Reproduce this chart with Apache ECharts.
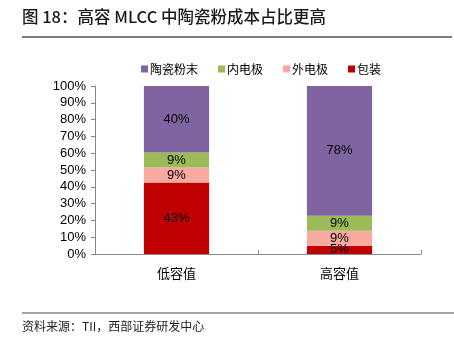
<!DOCTYPE html>
<html>
<head>
<meta charset="utf-8">
<script src="https://cdn.jsdelivr.net/npm/echarts@6/dist/echarts.min.js"></script>
<style>
  html, body { margin: 0; padding: 0; background: #fff; }
  #chart { width: 454px; height: 351px; }
</style>
</head>
<body>
<div id="chart"></div>
<script>
// 数据
var categories = ["低容值", "高容值"];
var seriesNames = ["包装", "外电极", "内电极", "陶瓷粉末"];
var packing = [43, 5];      // 包装
var outerElec = [9, 9];     // 外电极
var innerElec = [9, 9];     // 内电极
var ceramic = [40, 78];     // 陶瓷粉末
var yTicks = [0, 10, 20, 30, 40, 50, 60, 70, 80, 90, 100];

(function () {
  var myChart = echarts.init(document.querySelector("#chart"));
  var raw = [packing, outerElec, innerElec, ceramic];
  var colors = ["#C00000", "#F8A9A0", "#9BBB59", "#8064A2"];
  // 每个类别的合计，用于换算成百分比堆叠
  var totals = categories.map(function (c, i) {
    return raw.reduce(function (s, arr) { return s + arr[i]; }, 0);
  });

  var series = raw.map(function (arr, k) {
    return {
      name: seriesNames[k],
      type: "bar",
      stack: "total",
      barWidth: "40%",
      data: arr.map(function (v, i) {
        return { value: (v / totals[i]) * 100, raw: v };
      }),
      itemStyle: { color: colors[k] },
      label: {
        show: true,
        position: "inside",
        color: "#000",
        fontSize: 13,
        fontFamily: "Liberation Sans, Arial, sans-serif",
        formatter: function (p) {
          return p.data.raw + "%";
        },
      },
    };
  });

  var option = {
    animation: false,
    textStyle: { fontFamily: "Noto Sans CJK SC, sans-serif" },
    //图例，顺序与原图一致
    legend: {
      data: ["陶瓷粉末", "内电极", "外电极", "包装"],
      left: 136,
      top: 58,
      itemWidth: 7,
      itemHeight: 7,
      itemGap: 20,
      icon: "rect",
      textStyle: { fontSize: 12, color: "#000", padding: [0, 0, 0, -3] },
    },
    grid: {
      left: 95,
      right: 33,
      top: 86,
      bottom: 97,
    },
    xAxis: {
      type: "category",
      data: categories,
      axisLine: { lineStyle: { color: "#888", width: 1 } },
      axisTick: { show: true, inside: true, length: 4, lineStyle: { color: "#888" } },
      axisLabel: { color: "#000", fontSize: 13, margin: 13 },
    },
    yAxis: {
      type: "value",
      min: yTicks[0],
      max: yTicks[yTicks.length - 1],
      interval: 10,
      axisLine: { show: true, lineStyle: { color: "#888", width: 1 } },
      axisTick: { show: true, length: 4, lineStyle: { color: "#888" } },
      splitLine: { show: false },
      axisLabel: {
        color: "#000",
        fontSize: 13,
        margin: 9,
        fontFamily: "Liberation Sans, Arial, sans-serif",
        formatter: "{value}%",
      },
    },
    graphic: [
      {
        type: "text",
        left: 22,
        top: 8,
        style: {
          text: "图 18：高容 MLCC 中陶瓷粉成本占比更高",
          fontSize: 16.5,
          fontWeight: 500,
          fill: "#1a1a1a",
          fontFamily: "Noto Sans CJK SC, sans-serif",
        },
      },
      {
        type: "line",
        shape: { x1: 22, y1: 37, x2: 452, y2: 37 },
        style: { stroke: "#555", lineWidth: 1.5 },
      },
      {
        type: "line",
        shape: { x1: 22, y1: 313, x2: 454, y2: 313 },
        style: { stroke: "#888", lineWidth: 1.5 },
      },
      {
        type: "text",
        left: 22,
        top: 320,
        style: {
          text: "资料来源：TII，西部证券研发中心",
          fontSize: 12,
          fill: "#222",
          fontFamily: "Noto Sans CJK SC, sans-serif",
        },
      },
    ],
    series: series,
  };
  myChart.setOption(option);
})();
</script>
</body>
</html>
